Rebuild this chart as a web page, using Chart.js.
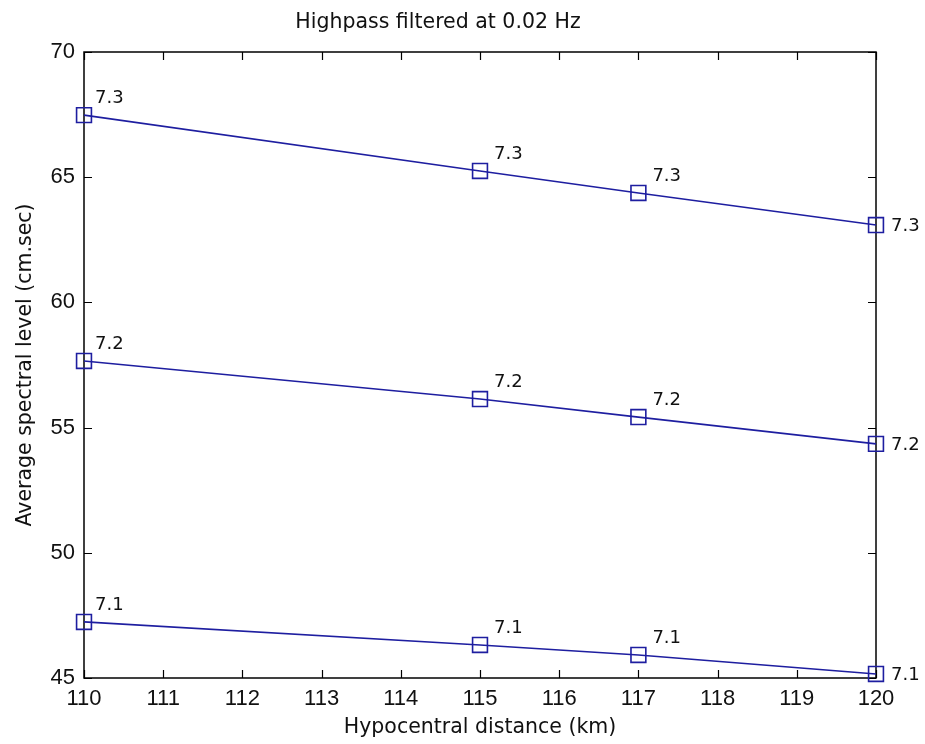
<!DOCTYPE html>
<html>
<head>
<meta charset="utf-8">
<script src="https://cdn.jsdelivr.net/npm/chart.js@4.4.1/dist/chart.umd.min.js"></script>
<style>
html,body{margin:0;padding:0;background:#fff;}
#wrap{width:925px;height:744px;position:relative;}
</style>
</head>
<body>
<div id="wrap"><canvas id="c" width="925" height="744"></canvas></div>
<script>
const distances = [110, 115, 117, 120];
const level71 = [47.24, 46.32, 45.92, 45.16];
const level72 = [57.66, 56.14, 55.42, 54.35];
const level73 = [67.48, 65.25, 64.37, 63.09];
const seriesLabels = ['7.1', '7.2', '7.3'];
const xTicks = [110,111,112,113,114,115,116,117,118,119,120];
const yTicks = [45,50,55,60,65,70];

const FONT = '"DejaVu Sans", Verdana, sans-serif';
const TICKFONT = '"Liberation Sans", Arial, sans-serif';
const LINE = '#1e1ea0';

function mk(vals, lab){
  return {
    label: lab,
    data: distances.map((d,i)=>({x:d,y:vals[i]})),
    borderColor: LINE,
    backgroundColor: 'rgba(0,0,0,0)',
    borderWidth: 1.6,
    pointStyle: 'rect',
    pointRadius: 10.5,
    pointHoverRadius: 10.5,
    pointBorderWidth: 1.6,
    pointBorderColor: LINE,
    pointBackgroundColor: 'rgba(0,0,0,0)',
    tension: 0,
    clip: false
  };
}

const boxTicks = {
  id: 'boxTicks',
  beforeDatasetsDraw(chart){
    const {ctx, chartArea:a, scales:{x,y}} = chart;
    ctx.save();
    ctx.strokeStyle = '#000';
    ctx.lineWidth = 1.5;
    ctx.strokeRect(a.left, a.top, a.right-a.left, a.bottom-a.top);
    ctx.lineWidth = 1.2;
    const L = 8;
    ctx.beginPath();
    xTicks.forEach(v=>{
      const px = Math.round(x.getPixelForValue(v))+0.5;
      ctx.moveTo(px, a.bottom); ctx.lineTo(px, a.bottom-L);
      ctx.moveTo(px, a.top); ctx.lineTo(px, a.top+L);
    });
    yTicks.forEach(v=>{
      const py = Math.round(y.getPixelForValue(v))+0.5;
      ctx.moveTo(a.left, py); ctx.lineTo(a.left+L, py);
      ctx.moveTo(a.right, py); ctx.lineTo(a.right-L, py);
    });
    ctx.stroke();
    ctx.restore();
  },
  afterDatasetsDraw(chart){
    const {ctx} = chart;
    ctx.save();
    ctx.fillStyle = '#111';
    ctx.font = '18px ' + FONT;
    ctx.textBaseline = 'middle';
    ctx.textAlign = 'left';
    chart.data.datasets.forEach((ds, di)=>{
      const meta = chart.getDatasetMeta(di);
      meta.data.forEach((pt, i)=>{
        const last = i === meta.data.length-1;
        const tx = pt.x + (last ? 15 : (i === 0 ? 11 : 14));
        const ty = pt.y + (last ? 1 : -17);
        ctx.fillText(ds.label, tx, ty);
      });
    });
    ctx.restore();
  }
};

new Chart(document.getElementById('c'), {
  type: 'line',
  data: { datasets: [mk(level73, seriesLabels[2]), mk(level72, seriesLabels[1]), mk(level71, seriesLabels[0])] },
  options: {
    responsive: false,
    animation: false,
    devicePixelRatio: 1,
    layout: { padding: { left: 0, right: 49, top: 0, bottom: 0 } },
    plugins: {
      legend: { display: false },
      tooltip: { enabled: false },
      title: {
        display: true,
        text: 'Highpass filtered at 0.02 Hz',
        color: '#111',
        font: { family: FONT, size: 20.5, weight: 'normal', lineHeight: 1.2 },
        padding: { top: 10, bottom: 17.4 }
      }
    },
    scales: {
      x: {
        type: 'linear',
        min: 110, max: 120,
        afterBuildTicks(s){ s.ticks = xTicks.map(v=>({value:v})); },
        afterFit(s){ s.height = 66; },
        grid: { display: false, drawTicks: false },
        border: { display: false },
        ticks: { color: '#111', padding: 8, font: { family: TICKFONT, size: 22 }, maxRotation: 0, autoSkip: false },
        title: { display: true, text: 'Hypocentral distance (km)', color: '#111',
                 font: { family: FONT, size: 20.5, lineHeight: 1.2 }, padding: { top: 0, bottom: 4 } }
      },
      y: {
        type: 'linear',
        min: 45, max: 70,
        afterBuildTicks(s){ s.ticks = yTicks.map(v=>({value:v})); },
        afterFit(s){ s.width = 84; },
        grid: { display: false, drawTicks: false },
        border: { display: false },
        ticks: { color: '#111', padding: 9, font: { family: TICKFONT, size: 22 }, autoSkip: false },
        title: { display: true, text: 'Average spectral level (cm.sec)', color: '#111',
                 font: { family: FONT, size: 20.5, lineHeight: 1.2 }, padding: { top: 13, bottom: 0 } }
      }
    }
  },
  plugins: [boxTicks]
});
</script>
</body>
</html>
